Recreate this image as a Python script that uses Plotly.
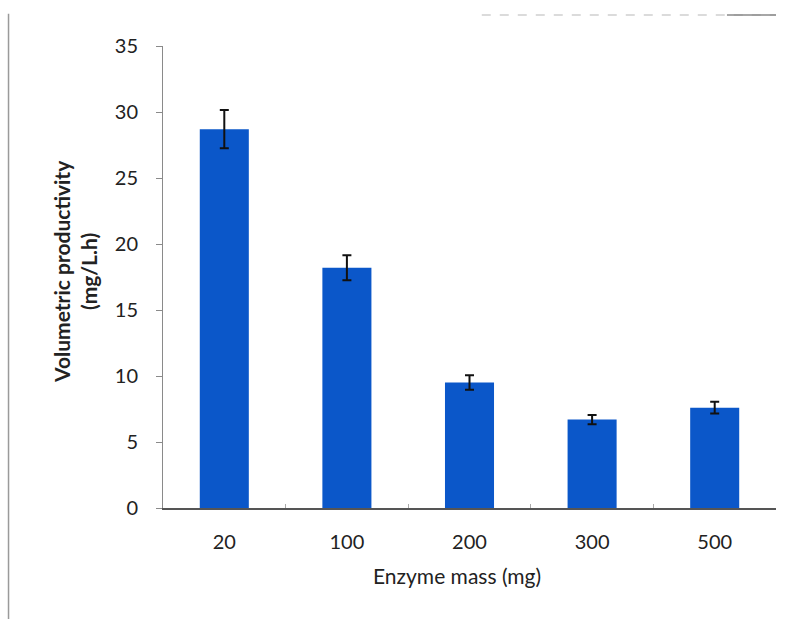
import plotly.graph_objects as go

categories = ["20", "100", "200", "300", "500"]
productivity = [28.7, 18.2, 9.5, 6.7, 7.6]
errors = [1.45, 0.95, 0.55, 0.35, 0.45]
y_ticks = [0, 5, 10, 15, 20, 25, 30, 35]

font_family = "Lato, Noto Sans, sans-serif"

fig = go.Figure()
fig.add_trace(go.Bar(
    x=categories, y=productivity,
    marker=dict(color="#0b57c9", line=dict(width=0)),
    error_y=dict(type="data", array=errors, visible=True,
                 color="#111111", thickness=2, width=4.5),
    width=0.4,
))

fig.update_layout(
    width=797, height=619,
    margin=dict(l=163, r=21, t=46, b=111),
    paper_bgcolor="white", plot_bgcolor="white",
    showlegend=False,
    font=dict(family=font_family, color="#222222"),
)
fig.update_yaxes(
    range=[0, 35], tickvals=y_ticks, ticktext=[str(v) for v in y_ticks],
    showgrid=False, zeroline=False,
    showline=True, linecolor="#8a8a8a", linewidth=1,
    ticks="outside", ticklen=6, tickcolor="#8a8a8a",
    ticklabelstandoff=14,
    tickfont=dict(size=20, color="#222222"),
)
fig.update_xaxes(
    showgrid=False, showline=True, linecolor="#555555", linewidth=1.5,
    ticks="inside", tickson="boundaries", ticklen=4, tickcolor="#aaaaaa",
    ticklabelstandoff=15,
    tickfont=dict(size=20, color="#222222"),
)
fig.add_annotation(
    text="<b>Volumetric productivity</b><br><b>(mg/L.h)</b>",
    xref="paper", yref="paper", x=-0.1436, y=0.513,
    xanchor="center", yanchor="middle", textangle=-90,
    showarrow=False, font=dict(size=21, color="#222222", family=font_family),
)
fig.add_annotation(
    text="Enzyme mass (mg)",
    xref="paper", yref="paper", x=0.479, y=-0.147,
    xanchor="center", yanchor="middle",
    showarrow=False, font=dict(size=21, color="#222222", family=font_family),
)
# frame decorations
fig.add_shape(type="line", xref="paper", yref="paper",
              x0=-0.252, x1=-0.252, y0=-0.24, y1=1.07,
              line=dict(color="#9a9a9a", width=1.5))
fig.add_shape(type="line", xref="paper", yref="paper",
              x0=0.52, x1=1.0, y0=1.067, y1=1.067,
              line=dict(color="#cfcfcf", width=1.5, dash="dash"))
fig.add_shape(type="line", xref="paper", yref="paper",
              x0=0.92, x1=1.0, y0=1.067, y1=1.067,
              line=dict(color="#8a8a8a", width=1.5))

fig.write_html("out.html")
